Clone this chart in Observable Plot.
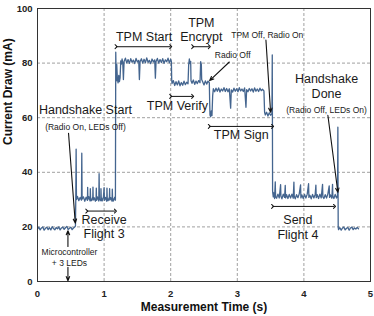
<!DOCTYPE html>
<html><head><meta charset="utf-8">
<script src="https://cdn.jsdelivr.net/npm/d3@7"></script>
<script src="https://cdn.jsdelivr.net/npm/@observablehq/plot@0.6"></script>
<style>
body{margin:0;background:#fff}
g[aria-label="x-axis tick label"] text, g[aria-label="y-axis tick label"] text{font-weight:bold}
</style>
</head><body><div id="chart"></div>
<script>
// Measured current (mA) vs time (s), by phase
const segIdle = [[0,19.2],[0.02,19.9],[0.04,18.9],[0.06,19.6],[0.08,20.0],[0.10,18.8],[0.12,19.5],[0.14,19.9],[0.16,19.0],[0.18,19.7],[0.20,18.9],[0.22,20.1],[0.24,19.4],[0.26,18.9],[0.28,19.8],[0.30,19.3],[0.32,20.0],[0.34,18.9],[0.36,19.6],[0.38,19.9],[0.40,19.1],[0.42,19.7],[0.44,20.2],[0.46,19.0],[0.48,19.5],[0.50,19.9],[0.52,19.0],[0.54,19.6],[0.56,20.0]];
const segReceive = [[0.57,20.3],[0.575,30.5],[0.58,48.5],[0.585,30.0],[0.60,31.2],[0.62,29.6],[0.64,30.8],[0.66,29.8],[0.665,47.0],[0.67,30.2],[0.69,31.0],[0.71,29.4],[0.73,30.9],[0.75,29.7],[0.753,34.5],[0.757,30.0],[0.77,31.1],[0.79,29.5],[0.793,34.0],[0.797,30.4],[0.81,29.6],[0.83,31.0],[0.833,34.6],[0.837,29.8],[0.85,30.7],[0.87,29.4],[0.88,30.9],[0.883,34.2],[0.887,29.7],[0.90,31.0],[0.92,29.5],[0.925,39.5],[0.93,30.2],[0.95,29.6],[0.953,34.0],[0.957,30.8],[0.97,29.5],[0.99,31.0],[1.0,34.4],[1.005,29.7],[1.02,30.8],[1.04,29.4],[1.043,34.2],[1.047,30.5],[1.06,29.6],[1.08,31.0],[1.083,34.0],[1.087,29.8],[1.10,30.7],[1.12,29.4],[1.123,33.8],[1.127,30.6],[1.14,29.5],[1.16,30.9],[1.17,29.8]];
const segTpmStart = [[1.175,84.0],[1.18,77.0],[1.185,73.5],[1.19,79.5],[1.20,74.0],[1.21,72.8],[1.22,75.5],[1.23,73.2],[1.24,74.6],[1.25,80.8],[1.26,79.6],[1.27,81.5],[1.28,80.2],[1.29,74.0],[1.30,80.6],[1.32,81.8],[1.34,80.0],[1.36,81.3],[1.38,79.9],[1.40,81.6],[1.42,80.3],[1.44,81.1],[1.46,79.8],[1.48,81.7],[1.50,80.4],[1.52,81.0],[1.53,74.0],[1.54,80.5],[1.56,81.6],[1.58,80.0],[1.60,81.4],[1.62,80.1],[1.64,81.9],[1.66,80.3],[1.68,81.0],[1.70,79.8],[1.72,81.5],[1.74,80.4],[1.76,81.2],[1.77,74.5],[1.78,80.6],[1.80,81.7],[1.82,80.0],[1.84,81.3],[1.86,80.2],[1.88,81.6],[1.90,79.9],[1.92,81.2],[1.94,80.5],[1.96,81.8],[1.98,80.1],[2.00,81.4],[2.01,80.6]];
const segVerifyEncrypt = [[2.015,74.0],[2.02,72.5],[2.04,73.6],[2.06,71.8],[2.08,73.2],[2.10,72.0],[2.12,73.5],[2.14,71.7],[2.16,72.9],[2.18,71.9],[2.20,73.4],[2.22,72.1],[2.24,73.0],[2.26,72.4],[2.27,79.5],[2.28,81.5],[2.29,79.8],[2.30,80.6],[2.305,73.5],[2.32,72.6],[2.34,73.8],[2.36,72.2],[2.38,73.4],[2.40,72.5],[2.42,73.6],[2.44,72.8],[2.45,80.5],[2.46,79.5],[2.465,74.0],[2.48,73.2],[2.50,72.0],[2.52,73.5],[2.54,72.3],[2.56,73.4],[2.58,72.8]];
const segSign = [[2.585,66.0],[2.59,61.0],[2.60,60.3],[2.61,62.5],[2.62,60.8],[2.63,68.0],[2.64,70.6],[2.66,69.5],[2.68,70.8],[2.70,69.7],[2.72,70.9],[2.74,69.4],[2.76,70.5],[2.78,69.8],[2.80,71.0],[2.82,69.6],[2.84,70.7],[2.86,69.5],[2.88,70.6],[2.90,63.5],[2.91,70.2],[2.93,69.4],[2.95,70.8],[2.97,69.7],[2.99,70.6],[3.01,69.5],[3.03,71.0],[3.05,69.8],[3.07,70.5],[3.09,69.6],[3.11,70.9],[3.13,63.8],[3.14,70.3],[3.16,69.5],[3.18,70.7],[3.20,69.8],[3.22,70.6],[3.24,69.4],[3.26,70.9],[3.28,69.7],[3.30,70.5],[3.32,69.6],[3.34,70.8],[3.36,69.9],[3.38,70.4],[3.40,69.8],[3.41,62.0],[3.42,61.0],[3.44,62.0],[3.46,60.6],[3.48,61.8],[3.50,60.9],[3.52,61.5]];
const segSend = [[3.525,83.0],[3.53,33.0],[3.54,31.0],[3.55,32.5],[3.56,30.4],[3.57,36.5],[3.575,31.0],[3.59,30.5],[3.61,32.0],[3.63,30.6],[3.65,35.5],[3.655,31.2],[3.67,30.3],[3.69,32.0],[3.71,30.8],[3.72,35.2],[3.725,30.6],[3.74,31.8],[3.76,30.4],[3.78,31.9],[3.80,30.6],[3.82,32.0],[3.84,30.5],[3.85,36.4],[3.855,31.2],[3.87,30.3],[3.89,31.8],[3.91,30.7],[3.93,32.1],[3.95,35.4],[3.955,30.6],[3.97,31.7],[3.99,30.4],[4.01,31.9],[4.03,30.6],[4.05,32.0],[4.07,35.8],[4.075,30.8],[4.09,31.6],[4.11,30.3],[4.13,31.9],[4.15,30.6],[4.17,32.0],[4.18,35.3],[4.185,30.7],[4.20,31.8],[4.22,30.4],[4.24,32.0],[4.26,30.6],[4.28,35.6],[4.285,31.0],[4.30,30.4],[4.32,31.8],[4.34,30.6],[4.36,32.1],[4.38,35.0],[4.385,30.8],[4.40,31.7],[4.42,30.5],[4.43,35.6],[4.435,31.2],[4.45,30.4],[4.47,31.9],[4.49,30.6],[4.505,31.5],[4.51,56.5],[4.515,20.0]];
const segDone = [[4.52,19.0],[4.54,19.7],[4.56,18.8],[4.58,19.6],[4.60,19.9],[4.62,18.9],[4.64,19.5],[4.66,19.8],[4.68,18.8],[4.70,19.6],[4.72,19.9],[4.74,19.0],[4.76,19.6],[4.78,19.2],[4.80,19.8],[4.82,19.3]];

const xTicks = [0,1,2,3,4,5];
const yTicks = [0,20,40,60,80,100];
const xGrid = [1,2,3,4];
const yGrid = [20,40,60,80];

const bigLabels = [
  {x:0.72, y:62.7, text:"Handshake Start"},
  {x:1.0, y:22.7, text:"Receive"},
  {x:1.0, y:17.4, text:"Flight 3"},
  {x:1.6, y:89.4, text:"TPM Start"},
  {x:2.46, y:94.7, text:"TPM"},
  {x:2.46, y:89.4, text:"Encrypt"},
  {x:2.1, y:64.2, text:"TPM Verify"},
  {x:3.06, y:53.5, text:"TPM Sign"},
  {x:4.34, y:74, text:"Handshake"},
  {x:4.34, y:68.6, text:"Done"},
  {x:3.91, y:22.6, text:"Send"},
  {x:3.91, y:17.2, text:"Flight 4"}
];
const smallLabels = [
  {x:0.72, y:56.6, text:"(Radio On, LEDs Off)"},
  {x:0.48, y:10.7, text:"Microcontroller"},
  {x:0.48, y:6.8, text:"+ 3 LEDs"},
  {x:2.93, y:82.9, text:"Radio Off"},
  {x:3.45, y:90.2, text:"TPM Off, Radio On"},
  {x:4.34, y:62.7, text:"(Radio Off, LEDs On)"}
];
const spans = [
  {x1:0.74, x2:1.17, y:25.8},
  {x1:1.18, x2:2.0, y:86},
  {x1:2.33, x2:2.58, y:86},
  {x1:2.0, x2:2.33, y:67.8},
  {x1:2.58, x2:3.53, y:56.8},
  {x1:3.53, x2:4.46, y:27.5}
];
const pointers = [
  {x1:0.466, y1:54.3, x2:0.567, y2:21.4},
  {x1:2.88, y1:80.4, x2:2.585, y2:73.6},
  {x1:3.43, y1:88.4, x2:3.5, y2:62},
  {x1:4.36, y1:60.9, x2:4.51, y2:32.7},
  {x1:0.457, y1:12.8, x2:0.457, y2:18.6},
  {x1:0.457, y1:5.2, x2:0.457, y2:0.3}
];

const trace = [segIdle, segReceive, segTpmStart, segVerifyEncrypt, segSign, segSend, segDone]
  .flat().map(([t, v]) => ({t, v}));

const font = "Liberation Sans, Arial, Helvetica, sans-serif";
const chart = Plot.plot({
  width: 374, height: 316,
  marginLeft: 37, marginRight: 4, marginTop: 8, marginBottom: 35,
  x: {domain: [0, 5]},
  y: {domain: [0, 100]},
  style: {fontFamily: font, fontSize: "9.5px", color: "#222", background: "#fff"},
  marks: [
    Plot.gridX(xGrid, {stroke: "#a0a0a0", strokeOpacity: 1, strokeDasharray: "3,2"}),
    Plot.gridY(yGrid, {stroke: "#a0a0a0", strokeOpacity: 1, strokeDasharray: "3,2"}),
    Plot.axisX(xTicks, {tickSize: 0, tickPadding: 8.5, fontWeight: "bold", label: null}),
    Plot.axisY(yTicks, {tickSize: 0, tickPadding: 5, fontWeight: "bold", label: null}),
    Plot.line(trace, {x: "t", y: "v", stroke: "#44658f", strokeWidth: 1.3}),
    Plot.frame({stroke: "#333", strokeWidth: 1}),
    Plot.link(spans, {x1: "x1", x2: "x2", y1: "y", y2: "y", stroke: "#111", strokeWidth: 1, markerStart: "arrow", markerEnd: "arrow"}),
    Plot.arrow(pointers, {x1: "x1", y1: "y1", x2: "x2", y2: "y2", stroke: "#111", strokeWidth: 1.1, headLength: 6, headAngle: 45}),
    Plot.text(bigLabels, {x: "x", y: "y", text: "text", fontSize: 12.5, fill: "#1a1a1a"}),
    Plot.text(smallLabels, {x: "x", y: "y", text: "text", fontSize: 8.5, fill: "#1a1a1a"}),
    Plot.text(["Measurement Time (s)"], {frameAnchor: "bottom", lineAnchor: "middle", dy: 26, fontSize: 12, fontWeight: "bold", fill: "#111"}),
    Plot.text(["Current Draw (mA)"], {frameAnchor: "left", dx: -29.5, rotate: -90, fontSize: 12, fontWeight: "bold", fill: "#111"})
  ]
});
document.getElementById("chart").appendChild(chart);
</script></body></html>
